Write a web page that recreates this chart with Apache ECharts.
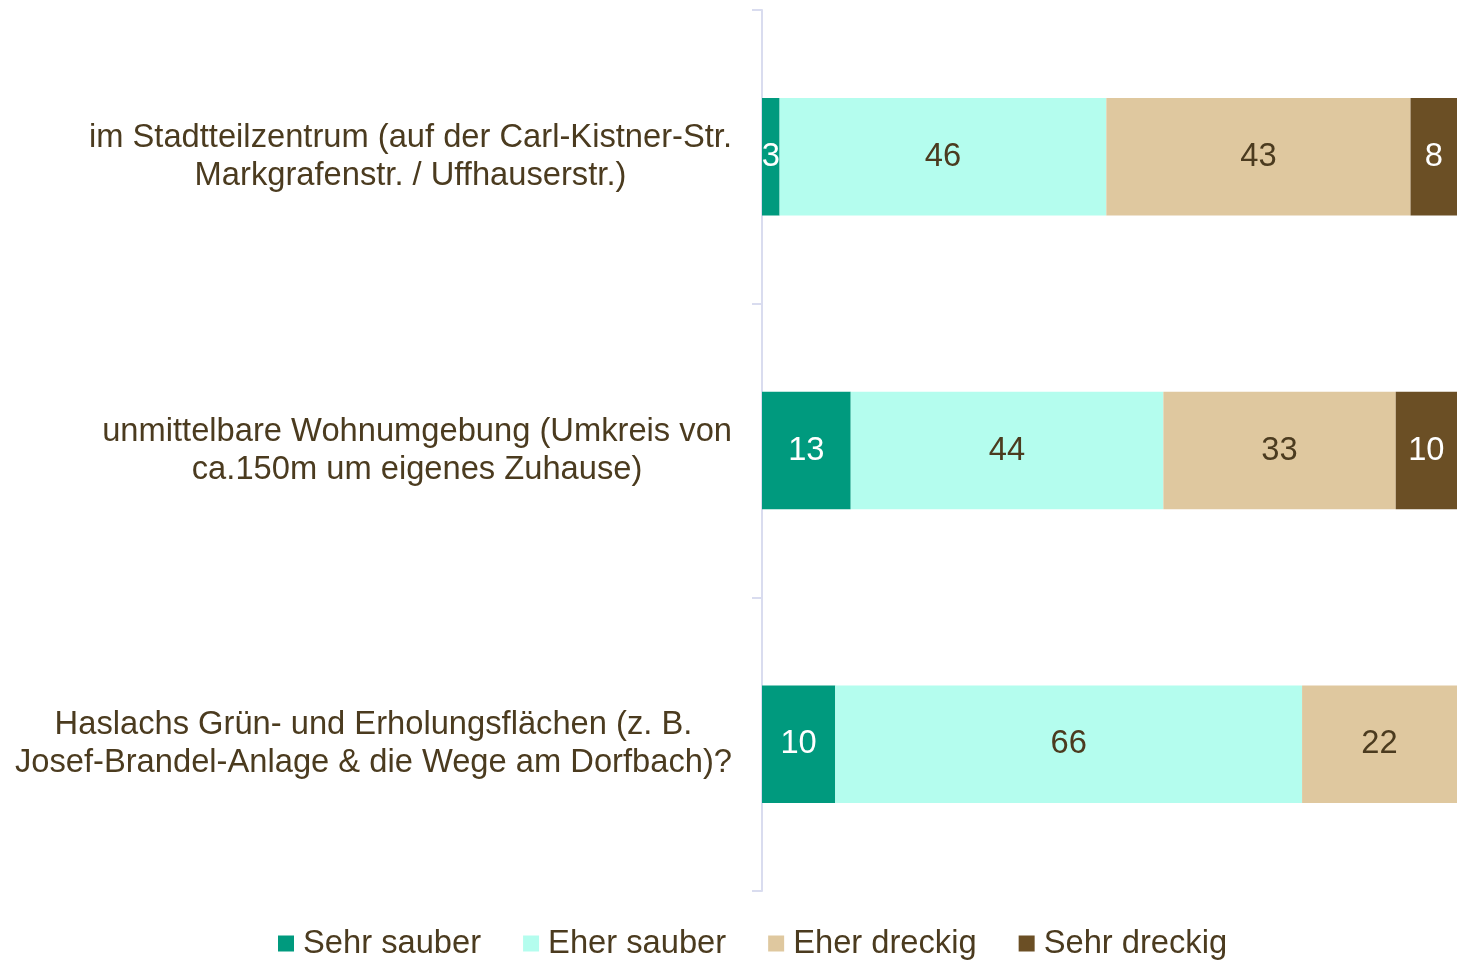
<!DOCTYPE html>
<html><head><meta charset="utf-8">
<script src="https://cdn.jsdelivr.net/npm/echarts@6/dist/echarts.min.js"></script>
<style>html,body{margin:0;padding:0;background:#fff}#c{width:1457px;height:960px}</style>
</head><body><div id="c"></div>
<script>
var categories = [
  'im Stadtteilzentrum (auf der Carl-Kistner-Str.\nMarkgrafenstr. / Uffhauserstr.)',
  'unmittelbare Wohnumgebung (Umkreis von\nca.150m um eigenes Zuhause)',
  'Haslachs Grün- und Erholungsflächen (z. B.\nJosef-Brandel-Anlage & die Wege am Dorfbach)?'
];
var seriesNames = ['Sehr sauber', 'Eher sauber', 'Eher dreckig', 'Sehr dreckig'];
var sehrSauber  = [2.5, 12.6, 10.4];
var eherSauber  = [46.4, 44.4, 66.3];
var eherDreckig = [43.2, 33.0, 22.4];
var sehrDreckig = [7.9, 10.0, 0];
var colors = ['#009A7E', '#B4FDEE', '#DFC89F', '#6B4F25'];
var labelColors = ['#ffffff', '#4B3B1F', '#4B3B1F', '#ffffff'];
var textColor = '#4B3B1F';
var font = 'Liberation Sans, Arial, sans-serif';
var fs = 32.7;

var allData = [sehrSauber, eherSauber, eherDreckig, sehrDreckig];
var chart = echarts.init(document.getElementById('c'), null, {renderer: 'canvas'});
chart.setOption({
  animation: false,
  backgroundColor: '#ffffff',
  grid: {left: 762, right: 0, top: 10, bottom: 69, containLabel: false},
  legend: {
    data: seriesNames,
    left: 278, top: 927, padding: 0,
    itemWidth: 16, itemHeight: 16, itemGap: 42,
    icon: 'rect',
    textStyle: {fontFamily: font, fontSize: fs, color: textColor, padding: [0, 0, 0, 4]}
  },
  xAxis: {type: 'value', min: 0, max: 98.7, show: false},
  yAxis: {
    type: 'category', inverse: true, data: categories,
    axisLine: {show: true, lineStyle: {color: '#D9DCEF', width: 2}},
    axisTick: {show: true, length: 10, lineStyle: {color: '#D9DCEF', width: 2}},
    axisLabel: {
      margin: 30, align: 'right',
      fontFamily: font, fontSize: fs, color: textColor, lineHeight: 38,
      formatter: function (v) {
        return v.split('\n').map(function (l) { return '{c|' + l + '}'; }).join('\n');
      },
      rich: {c: {align: 'center', fontFamily: font, fontSize: fs, color: textColor, lineHeight: 38}}
    }
  },
  series: seriesNames.map(function (n, i) {
    return {
      name: n, type: 'bar', stack: 'total', barWidth: '40%',
      itemStyle: {color: colors[i]},
      label: {
        show: true, position: 'inside', fontFamily: font, fontSize: fs,
        color: labelColors[i], offset: [0, 1],
        formatter: function (p) { return p.value ? Math.round(p.value) : ''; }
      },
      labelLayout: {hideOverlap: false},
      data: allData[i]
    };
  })
});
</script></body></html>
